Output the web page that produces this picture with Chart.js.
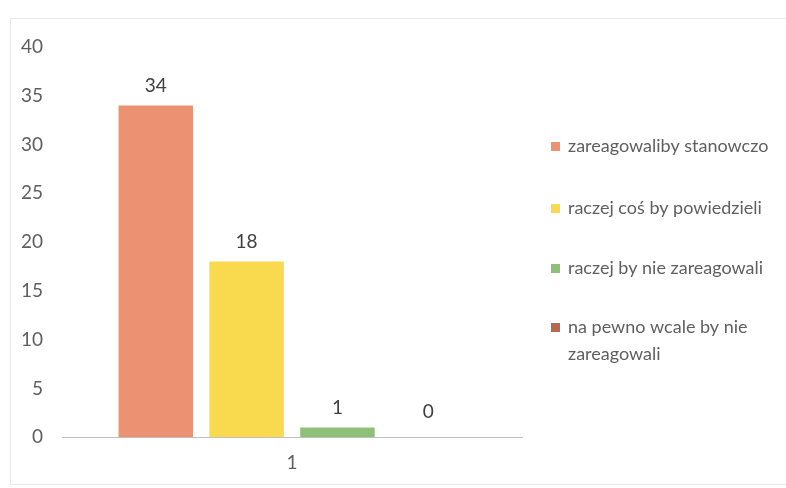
<!DOCTYPE html>
<html>
<head>
<meta charset="utf-8">
<script src="https://cdn.jsdelivr.net/npm/chart.js@4.4.1/dist/chart.umd.min.js"></script>
<style>
html,body{margin:0;padding:0;background:#fff;}
#wrap{width:786px;height:488px;position:relative;}
</style>
</head>
<body>
<div id="wrap"><canvas id="c" width="786" height="488"></canvas></div>
<script>
const categories = ["1"];
const seriesNames = ["zareagowaliby stanowczo", "raczej coś by powiedzieli", "raczej by nie zareagowali", "na pewno wcale by nie zareagowali"];
const legendLines = [["zareagowaliby stanowczo"], ["raczej coś by powiedzieli"], ["raczej by nie zareagowali"], ["na pewno wcale by nie", "zareagowali"]];
const values = [34, 18, 1, 0];
const colors = ["#EC9272", "#F9DA4E", "#8FC078", "#B9684E"];
const yTicks = [0, 5, 10, 15, 20, 25, 30, 35, 40];

const FONT = "Lato, 'Open Sans', sans-serif";
const TXT = "#5f5f5f";

const datasets = seriesNames.map((n, i) => ({
  label: n,
  data: [values[i]],
  backgroundColor: colors[i],
  borderWidth: 0,
  categoryPercentage: 0.79,
  barPercentage: 0.82
}));

const valueLabels = {
  id: 'valueLabels',
  afterDatasetsDraw(chart) {
    const ctx = chart.ctx;
    ctx.save();
    ctx.font = "19px " + FONT;
    ctx.fillStyle = "#404040";
    ctx.textAlign = "center";
    ctx.textBaseline = "middle";
    chart.data.datasets.forEach((ds, i) => {
      const meta = chart.getDatasetMeta(i);
      meta.data.forEach((el, j) => {
        const v = ds.data[j];
        const off = v === 0 ? 25 : 20;
        ctx.fillText(String(v), el.x, el.y - off);
      });
    });
    ctx.restore();
  }
};

const sideLegend = {
  id: 'sideLegend',
  afterDraw(chart) {
    const ctx = chart.ctx;
    ctx.save();
    ctx.font = "18px " + FONT;
    ctx.textBaseline = "middle";
    ctx.textAlign = "left";
    const x0 = 551, ys = [146, 208, 268, 327];
    legendLines.forEach((lines, i) => {
      ctx.fillStyle = chart.data.datasets[i].backgroundColor;
      ctx.fillRect(x0, ys[i] - 4, 9, 9);
      ctx.fillStyle = TXT;
      lines.forEach((t, k) => ctx.fillText(t, x0 + 17, ys[i] + k * 27));
    });
    ctx.strokeStyle = "#e8e8e8";
    ctx.lineWidth = 1;
    ctx.strokeRect(10.5, 18.5, 780, 466);
    ctx.restore();
  }
};

new Chart(document.getElementById('c'), {
  type: 'bar',
  data: { labels: categories, datasets },
  options: {
    responsive: false,
    animation: false,
    layout: { padding: { left: 2, right: 264, top: 47, bottom: 0 } },
    plugins: { legend: { display: false }, tooltip: { enabled: false } },
    scales: {
      x: {
        grid: { display: false, drawTicks: false },
        border: { display: true, color: "#bfbfbf", width: 1 },
        ticks: { color: TXT, font: { family: FONT, size: 19 }, padding: 14 }
      },
      y: {
        min: 0, max: 40,
        afterBuildTicks(scale) { scale.ticks = yTicks.map(v => ({ value: v })); },
        grid: { display: false, drawTicks: false },
        border: { display: false },
        ticks: { color: TXT, font: { family: FONT, size: 19 }, padding: 19 }
      }
    }
  },
  plugins: [valueLabels, sideLegend]
});
</script>
</body>
</html>
